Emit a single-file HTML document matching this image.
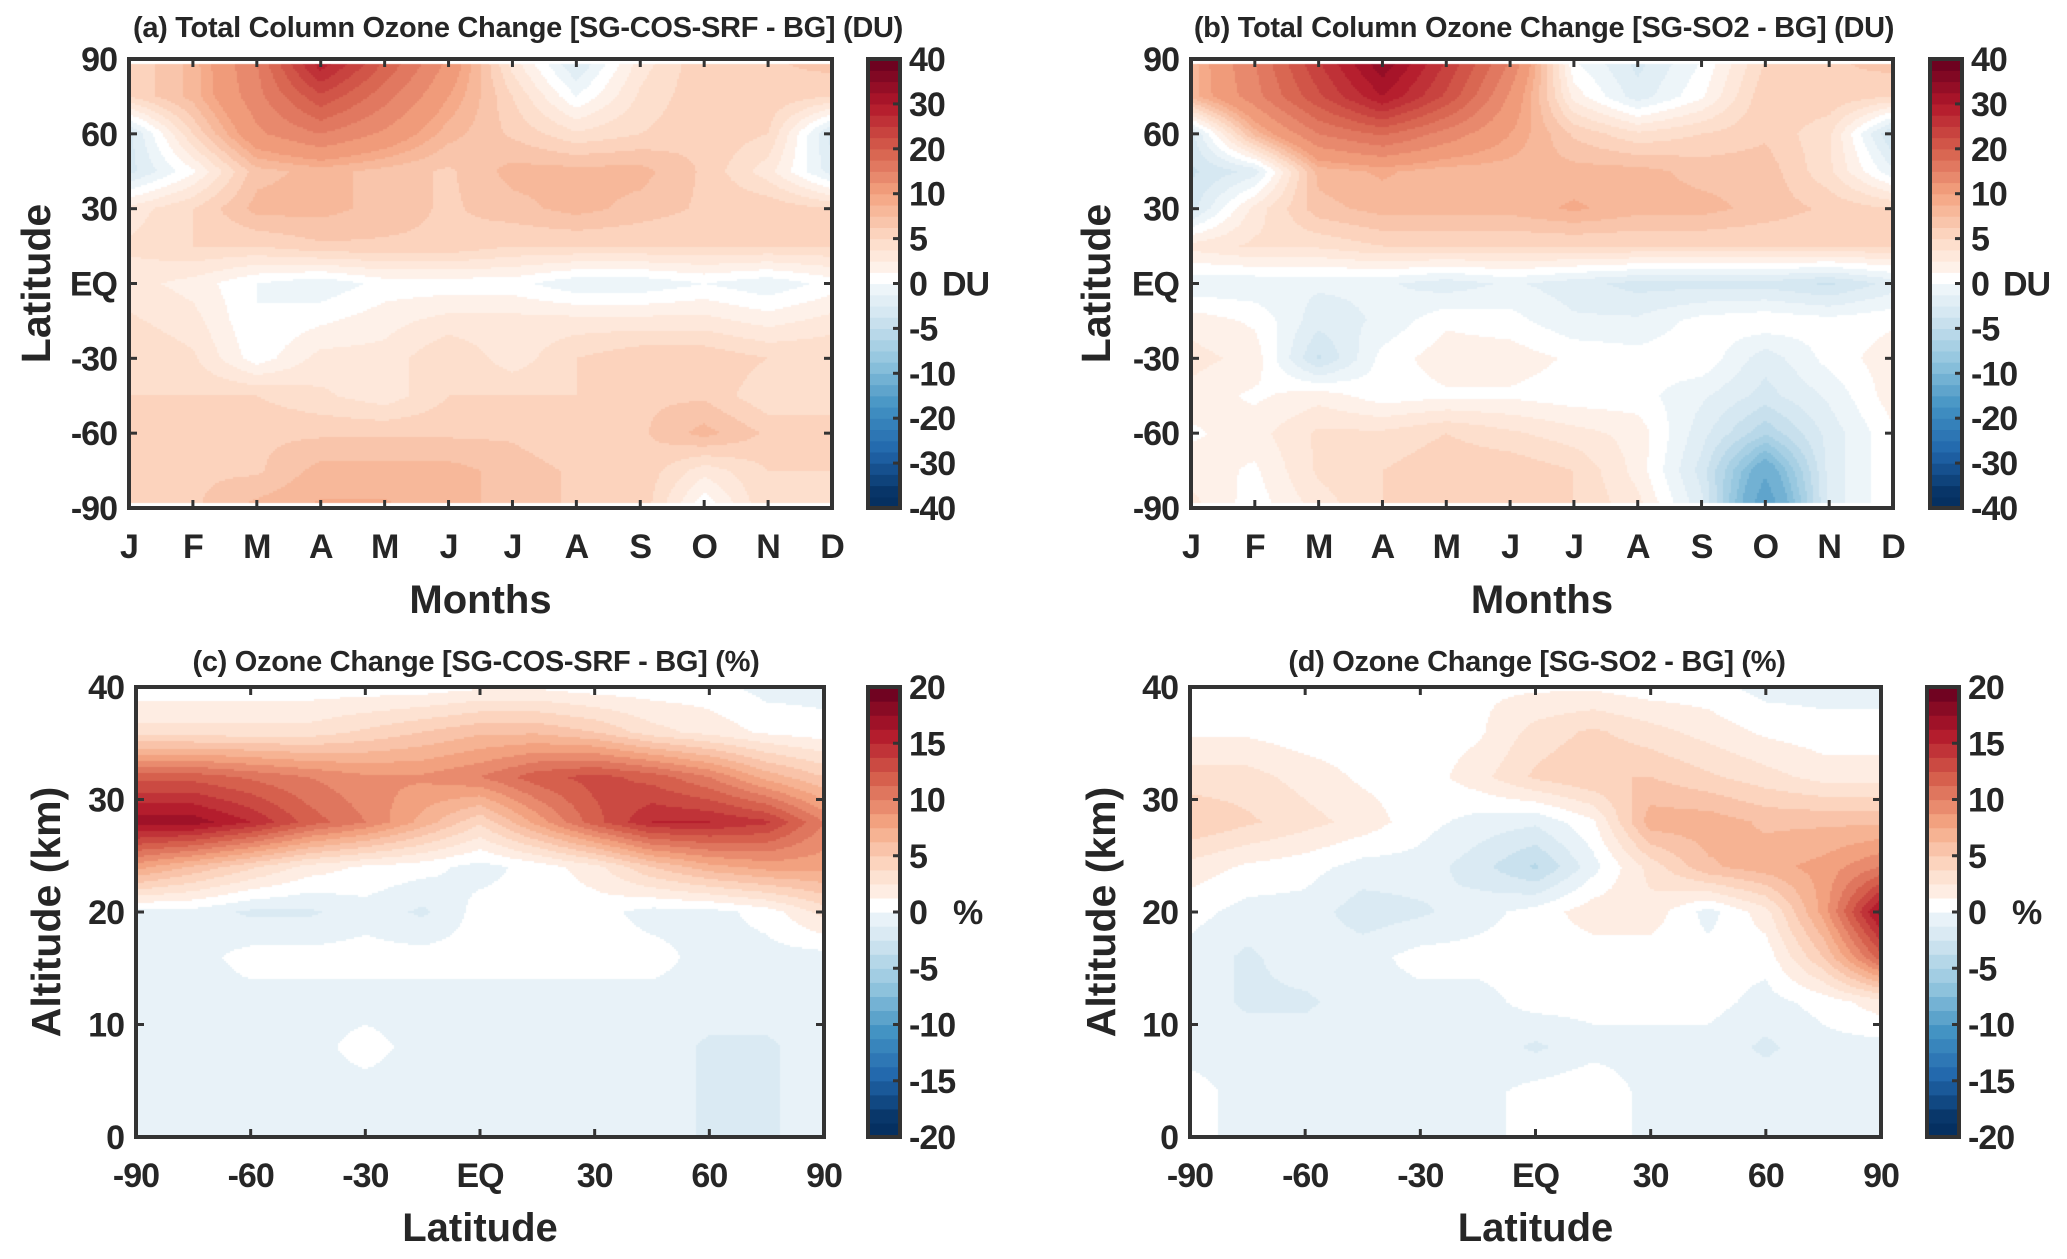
<!DOCTYPE html>
<html><head><meta charset="utf-8">
<style>
html,body{margin:0;padding:0;background:#fff;}
#wrap{position:relative;width:2067px;height:1259px;overflow:hidden;font-family:"Liberation Sans",Arial,sans-serif;}
canvas{position:absolute;}
svg{position:absolute;left:0;top:0;}
text{font-family:"Liberation Sans",Arial,sans-serif;font-weight:bold;fill:#262626;}
</style></head>
<body>
<div id="wrap">
<canvas id="ca" width="703" height="449" style="left:129px;top:59px"></canvas>
<canvas id="cb" width="702" height="449" style="left:1191px;top:59px"></canvas>
<canvas id="cc" width="688" height="450" style="left:136px;top:687px"></canvas>
<canvas id="cd" width="691" height="450" style="left:1190px;top:687px"></canvas>
<svg id="svg" width="2067" height="1259"></svg>
</div>
<script>
// ---------- DATA ----------
const months = ["J","F","M","A","M","J","J","A","S","O","N","D"];
const latRows = [90,75,60,45,30,15,0,-15,-30,-45,-60,-75,-90];
const latTickLabels = ["90","60","30","EQ","-30","-60","-90"];
const latTickValues = [90,60,30,0,-30,-60,-90];
const duTicks = [-40,-30,-20,-10,-5,0,5,10,20,30,40];
const pctTicks = [-20,-15,-10,-5,0,5,10,15,20];
const latCols = [-90,-75,-60,-45,-30,-15,0,15,30,45,60,75,90];
const altRows = [40,36,32,28,24,20,16,12,8,4,0];
const altTickValues = [0,10,20,30,40];
const latXTickLabels = ["-90","-60","-30","EQ","30","60","90"];
const latXTickValues = [-90,-60,-30,0,30,60,90];

const tcoA = [
[5,8,15,30,20,12,3,-3,3,6,6,7],
[5,8,14,22,16,10,5,0,4,6,6,5],
[-3,5,12,15,12,8,6,4,5,6,5,-3],
[-3,1,7,8,7,6,8,8,8,6,3,-2],
[3,5,8,8,7,6,7,8,7,6,6,5],
[4,5,5,6,6,6,5,5,5,5,5,5],
[3,2,0,-1,0.5,0.5,0.5,-1,-1,0,-1,0.5],
[4,3,0,1,2,3,3,3,3,3,2,3],
[5,4,0.5,3,3,5,3,5,6,6,5,5],
[5,5,5,4,3,5,5,5,6,6,4,5],
[6,6,6,6,6,6,6,5,6,8,6,5],
[6,6,6,8,8,8,7,6,6,3,5,5],
[6,6,8,9,9,8,7,6,6,0,5,5]];
const tcoB = [
[8,15,25,35,25,15,0,-3,0,5,6,7],
[8,14,22,30,22,12,2,-2,1,6,6,5],
[-3,8,15,18,14,10,6,4,5,6,4,-4],
[-4,-2,8,9,8,8,8,8,7,7,4,-1],
[-3,3,7,8,8,8,9,8,8,7,6,5],
[3,4,4,5,5,5,5,5,5,5,5,5],
[-1,-1,-1,-1,-2,-1,-2,-3,-3,-3,-4,-2],
[2,1,-2,-1,1,0.5,-1,-1,0.5,1,0.5,1],
[3,2,-4,0.5,2,2,1,0.5,1,-2,0.5,2],
[2,1,2,0.5,1,1,0.5,0.5,-1,-3,-1,2],
[1,2,4,4,5,4,3,2,-2,-6,-2,1],
[2,1,4,5,6,6,5,2,-3,-12,-2,1],
[3,0.5,3,5,6,6,5,3,-2,-15,-2,1]];
const o3C = [
[.5,.5,.5,.5,.5,.5,1,1,.5,.5,.5,-.5,-.5],
[3,3,3,3,4,5,6,6,5,3,2,1,.5],
[12,12,11,10,9,9,10,12,13,12,10,7,5],
[17,17,15,12,10,7,4,8,12,15,15,14,10],
[8,6,4,2,1,.5,-.5,.5,2,5,7,8,8],
[-.5,-.5,-1.5,-1.5,-.5,-1.5,.5,.5,.5,-.5,-.5,.5,3],
[-.5,-.5,.5,.5,.5,.5,.5,.5,.5,.5,-.5,-.5,-.5],
[-.5,-.5,-.5,-.5,-.5,-.5,-.5,-.5,-.5,-.5,-.5,-.5,-.5],
[-.5,-.5,-.5,-.5,.5,-.5,-.5,-.5,-.5,-.5,-1.5,-1.5,-.5],
[-.5,-.5,-.5,-.5,-.5,-.5,-.5,-.5,-.5,-.5,-1.5,-1.5,-.5],
[-.5,-.5,-.5,-.5,-.5,-.5,-.5,-.5,-.5,-.5,-1.5,-1.5,-.5]];
const o3D = [
[.5,.5,.5,.5,.5,1,1,1,.5,.5,-.5,-.5,-.5],
[1,1,.5,.5,.5,1,3,4,3,2,1,.5,.5],
[3,3,2,1,.5,2,4,5,5,4,3,2,2],
[5,4,3,2,.5,-.5,-1,1,7,7,6,6,6],
[2,1,.5,-.5,-.5,-2,-4,-.5,3,6,7,8,10],
[.5,-.5,-.5,-2,-1.5,-.5,.5,2,2,-.5,2,8,17],
[-.5,-1.5,-.5,-.5,.5,.5,.5,.5,.5,.5,.5,5,12],
[-.5,-1.5,-1.5,-.5,-.5,-.5,.5,.5,.5,.5,-.5,.5,2],
[-.5,-.5,-.5,-.5,-.5,-.5,-1.5,-.5,-.5,-.5,-1.5,-.5,-.5],
[.5,-.5,-.5,-.5,-.5,-.5,.5,1,-.5,-.5,-.5,-.5,-.5],
[.5,-.5,-.5,-.5,-.5,-.5,.5,1,-.5,-.5,-.5,-.5,-.5]];

// ---------- COLOR ----------
const stops = ["053061","2166ac","4393c3","92c5de","d1e5f0","ffffff","fddbc7","f4a582","d6604d","b2182b","67001f"].map(h=>[parseInt(h.slice(0,2),16),parseInt(h.slice(2,4),16),parseInt(h.slice(4,6),16)]);
function cmap(t){
  t=Math.max(-1,Math.min(1,t));
  const p=(t+1)*5; const i=Math.min(9,Math.floor(p)); const f=p-i;
  const a=stops[i],b=stops[i+1];
  return [0,1,2].map(k=>Math.round(a[k]+(b[k]-a[k])*f));
}
function posOf(v,ticks){
  const n=ticks.length-1;
  if(v<=ticks[0]) return -1; if(v>=ticks[n]) return 1;
  for(let i=0;i<n;i++){ if(v<=ticks[i+1]){ const f=(v-ticks[i])/(ticks[i+1]-ticks[i]); return -1+2*(i+f)/n; } }
  return 1;
}
function bandT(k,nb){ return k<0 ? (k-0.6)/nb : (k+0.6)/nb; }
function bandColor(v,ticks,nb){
  const p=posOf(v,ticks);
  let k=Math.floor(p*nb); if(k>=nb)k=nb-1; if(k<-nb)k=-nb;
  if(k===0) return [255,255,255];
  return cmap(bandT(k,nb));
}
function bilinear(grid,fr,fc){
  const R=grid.length-1,C=grid[0].length-1;
  fr=Math.max(0,Math.min(R,fr)); fc=Math.max(0,Math.min(C,fc));
  const r0=Math.min(R-1,Math.floor(fr)),c0=Math.min(C-1,Math.floor(fc));
  const dr=fr-r0,dc=fc-c0;
  return grid[r0][c0]*(1-dr)*(1-dc)+grid[r0][c0+1]*(1-dr)*dc+grid[r0+1][c0]*dr*(1-dc)+grid[r0+1][c0+1]*dr*dc;
}
function drawField(id,grid,ticks,nb,edge){
  const cv=document.getElementById(id),ctx=cv.getContext('2d');
  const W=cv.width,H=cv.height,s=2;
  const R=grid.length-1,C=grid[0].length-1;
  for(let y=0;y<H;y+=s){ for(let x=0;x<W;x+=s){
    const fr=(y+s/2)/H*R, fc=(x+s/2)/W*C;
    const col=bandColor(bilinear(grid,fr,fc),ticks,nb);
    ctx.fillStyle='rgb('+col.join(',')+')'; ctx.fillRect(x,y,s,s);
  }}
  if(edge){ctx.fillStyle='#fff';ctx.fillRect(0,0,W,edge);ctx.fillRect(0,H-edge,W,edge);}
}
drawField('ca',tcoA,duTicks,20,5);
drawField('cb',tcoB,duTicks,20,5);
drawField('cc',o3C,pctTicks,16,0);
drawField('cd',o3D,pctTicks,16,0);

// ---------- OVERLAY ----------
const NS="http://www.w3.org/2000/svg";
const svg=document.getElementById('svg');
function el(tag,attrs,txt){const e=document.createElementNS(NS,tag);for(const k in attrs)e.setAttribute(k,attrs[k]);if(txt!==undefined)e.textContent=txt;svg.appendChild(e);return e;}

function panel(P){
  const {L,R,T,B}=P;
  const nb=P.nb, cbL=P.cbL, cbR=P.cbR;
  for(let k=-nb;k<nb;k++){
    const y0=T+(B-T)*(1-(k+nb+1)/(2*nb)), h=(B-T)/(2*nb);
    const c=(k===0)?[255,255,255]:cmap(bandT(k,nb));
    const r=el('rect',{x:cbL,y:y0,width:cbR-cbL,height:h+0.6,fill:'rgb('+c.join(',')+')'});
    
    
  }
  const cbf=el('rect',{x:cbL,y:T,width:cbR-cbL,height:B-T,fill:'none',stroke:'#333','stroke-width':4});
  
  
  P.cbTicks.forEach((v,i)=>{
    const y=B-(B-T)*i/(P.cbTicks.length-1);
    el('line',{x1:cbR-7,x2:cbR,y1:y,y2:y,stroke:'#333','stroke-width':3});
    const t=el('text',{x:cbR+9,y:y+12,'font-size':34,'letter-spacing':-1},String(v));
    
    
  });
  const u=el('text',{x:P.unitX,y:(T+B)/2+12,'font-size':34,'letter-spacing':-1},P.unit);
  
  
  const fr=el('rect',{x:L,y:T,width:R-L,height:B-T,fill:'none',stroke:'#333','stroke-width':4});
  
  
  P.xVals.forEach((v,i)=>{
    const x=L+(R-L)*(v-P.xMin)/(P.xMax-P.xMin);
    el('line',{x1:x,x2:x,y1:B,y2:B-8,stroke:'#333','stroke-width':3});
    el('line',{x1:x,x2:x,y1:T,y2:T+8,stroke:'#333','stroke-width':3});
    const t=el('text',{x:x,y:B+50,'font-size':34,'text-anchor':'middle','letter-spacing':-1},P.xLabels[i]);
    
    
  });
  P.yVals.forEach((v,i)=>{
    const y=B-(B-T)*(v-P.yMin)/(P.yMax-P.yMin);
    el('line',{x1:L,x2:L+8,y1:y,y2:y,stroke:'#333','stroke-width':3});
    el('line',{x1:R,x2:R-8,y1:y,y2:y,stroke:'#333','stroke-width':3});
    const t=el('text',{x:L-12,y:y+12,'font-size':34,'text-anchor':'end','letter-spacing':-1},P.yLabels[i]);
    
    
  });
  const xt=el('text',{x:(L+R)/2,y:P.xtY,'font-size':40,'text-anchor':'middle'},P.xTitle);
  
  
  const yt=el('text',{x:0,y:0,'font-size':41,'text-anchor':'middle',transform:'translate('+P.ytX+','+(T+B)/2+') rotate(-90)'},P.yTitle);
  
  
  const ti=el('text',{x:P.titleX,y:P.titleY,'font-size':29,'text-anchor':'middle','letter-spacing':-0.3},P.title);
  
  
}
const monthIdx=months.map((m,i)=>i);
panel({id:'panel-a',L:129,R:832,T:59,B:508,nb:20,cbL:868,cbR:900,cbTicks:duTicks,unit:'DU',unitX:942,
  xVals:monthIdx,xLabels:months,xMin:0,xMax:11,yVals:latTickValues,yLabels:latTickLabels,yMin:-90,yMax:90,
  xTitle:'Months',xtY:613,yTitle:'Latitude',ytX:50,title:'(a) Total Column Ozone Change [SG-COS-SRF - BG] (DU)',titleX:518,titleY:37});
panel({id:'panel-b',L:1191,R:1893,T:59,B:508,nb:20,cbL:1930,cbR:1962,cbTicks:duTicks,unit:'DU',unitX:2003,
  xVals:monthIdx,xLabels:months,xMin:0,xMax:11,yVals:latTickValues,yLabels:latTickLabels,yMin:-90,yMax:90,
  xTitle:'Months',xtY:613,yTitle:'Latitude',ytX:1110,title:'(b) Total Column Ozone Change [SG-SO2 - BG] (DU)',titleX:1544,titleY:37});
panel({id:'panel-c',L:136,R:824,T:687,B:1137,nb:16,cbL:868,cbR:900,cbTicks:pctTicks,unit:'%',unitX:953,
  xVals:latXTickValues,xLabels:latXTickLabels,xMin:-90,xMax:90,yVals:altTickValues,yLabels:altTickValues.map(String),yMin:0,yMax:40,
  xTitle:'Latitude',xtY:1241,yTitle:'Altitude (km)',ytX:60,title:'(c) Ozone Change [SG-COS-SRF - BG] (%)',titleX:476,titleY:671});
panel({id:'panel-d',L:1190,R:1881,T:687,B:1137,nb:16,cbL:1927,cbR:1959,cbTicks:pctTicks,unit:'%',unitX:2012,
  xVals:latXTickValues,xLabels:latXTickLabels,xMin:-90,xMax:90,yVals:altTickValues,yLabels:altTickValues.map(String),yMin:0,yMax:40,
  xTitle:'Latitude',xtY:1241,yTitle:'Altitude (km)',ytX:1115,title:'(d) Ozone Change [SG-SO2 - BG] (%)',titleX:1537,titleY:671});
</script>
</body></html>
